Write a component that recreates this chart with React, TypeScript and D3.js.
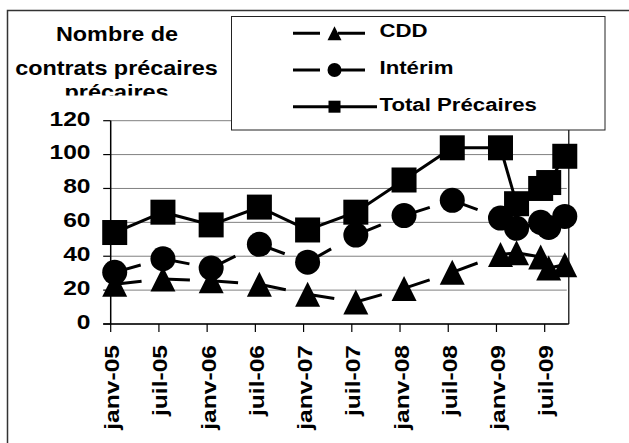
import * as d3 from 'd3'

const months = ['2005-01', '2005-07', '2006-01', '2006-07', '2007-01', '2007-07', '2008-01', '2008-07', '2009-01', '2009-03', '2009-06', '2009-07', '2009-09']
const cdd = [23.5, 26.5, 25.5, 23.5, 17.5, 13, 21, 30.5, 41, 42, 39.5, 33, 35]
const interim = [30.5, 38.5, 33, 47, 36.5, 52.5, 64, 73, 62.5, 56.5, 60, 57, 63.5]
const total = [54, 66, 58.5, 69, 55.5, 66, 85, 104, 104, 71, 80, 83.5, 99]

const axisStart = '2005-01'
const axisEnd = '2009-10'
const xTickMonths = ['2005-01', '2005-07', '2006-01', '2006-07', '2007-01', '2007-07', '2008-01', '2008-07', '2009-01', '2009-07']
const xTickLabels = ['janv-05', 'juil-05', 'janv-06', 'juil-06', 'janv-07', 'juil-07', 'janv-08', 'juil-08', 'janv-09', 'juil-09']
const yTicks = [0, 20, 40, 60, 80, 100, 120]

const titleLines = ['Nombre de', 'contrats précaires', 'précaires']
const legendLabels = ['CDD', 'Intérim', 'Total Précaires']

const FONT = '"Liberation Sans", Arial, sans-serif'
const STRETCH = 1.2

function monthIndex(s: string) {
  const [yy, mm] = s.split('-').map(Number)
  return (yy - 2005) * 12 + (mm - 1)
}

function Label({ x, y, size, anchor = 'start', rotate = 0, children }: any) {
  return (
    <text
      transform={`translate(${x},${y}) rotate(${rotate}) scale(${STRETCH},1)`}
      fontSize={size}
      fontWeight="bold"
      fontFamily={FONT}
      textAnchor={anchor}
      fill="#000"
    >
      {children}
    </text>
  )
}

function Marker({ kind, cx, cy, s }: { kind: string; cx: number; cy: number; s: number }) {
  if (kind === 'square') return <rect x={cx - s / 2} y={cy - s / 2} width={s} height={s} fill="#000" />
  if (kind === 'circle') return <circle cx={cx} cy={cy} r={s / 2} fill="#000" />
  const tri = `M${cx},${cy - s / 2}L${cx + s / 2},${cy + s / 2}L${cx - s / 2},${cy + s / 2}Z`
  return <path d={tri} fill="#000" />
}

export default function App() {
  const x = d3.scaleLinear().domain([monthIndex(axisStart), monthIndex(axisEnd)]).range([110.7, 568.8])
  const y = d3.scaleLinear().domain([0, 120]).range([324, 120.7])
  const px = (s: string) => x(monthIndex(s) + 0.5)

  const series = [
    { name: legendLabels[0], values: cdd, kind: 'triangle', dashed: true, legendY: 33.3 },
    { name: legendLabels[1], values: interim, kind: 'circle', dashed: true, legendY: 70 },
    { name: legendLabels[2], values: total, kind: 'square', dashed: false, legendY: 106.7 },
  ]

  const line = d3.line<number>().x((_, i) => px(months[i])).y(d => y(d))
  const [x0, x1] = x.range()

  return (
    <svg width={629} height={443} style={{ position: 'fixed', left: 0, top: 0, background: '#fff' }}>
      <defs>
        <clipPath id="titleClip">
          <rect x={0} y={10} width={230} height={85.5} />
        </clipPath>
      </defs>
      <rect x={0} y={0} width={629} height={443} fill="#fff" />
      <rect x={7.5} y={10.5} width={640} height={450} fill="none" stroke="#333" strokeWidth={1.5} />

      {/* gridlines */}
      {yTicks.map(t => (
        <line key={t} x1={x0} x2={x1 - 2} y1={y(t)} y2={y(t)} stroke="#808080" strokeWidth={1} />
      ))}
      <line x1={x1} x2={x1} y1={y(120)} y2={y(0)} stroke="#000" strokeWidth={1.2} />

      {/* y axis */}
      <line x1={x0} x2={x0} y1={y(120)} y2={y(0)} stroke="#000" strokeWidth={1.5} />
      {yTicks.map(t => (
        <g key={t}>
          <line x1={x0 - 7.5} x2={x0} y1={y(t)} y2={y(t)} stroke="#000" strokeWidth={1.2} />
          <Label x={90.5} y={y(t) + 4.8} size={20.5} anchor="end">{t}</Label>
        </g>
      ))}

      {/* x axis */}
      <line x1={x0 - 7.5} x2={x1} y1={y(0)} y2={y(0)} stroke="#000" strokeWidth={1.5} />
      {xTickMonths.map((m, i) => {
        const tx = x(monthIndex(m))
        return (
          <g key={m}>
            <line x1={tx} x2={tx} y1={y(0)} y2={y(0) + 8} stroke="#000" strokeWidth={1.2} />
            <Label x={tx + 8.5} y={345} size={20.5} anchor="end" rotate={-90}>{xTickLabels[i]}</Label>
          </g>
        )
      })}

      {/* series */}
      {series.map(s => (
        <g key={s.name}>
          {s.dashed
            ? s.values.slice(1).map((v, i) => (
                <line
                  key={i}
                  x1={px(months[i])} y1={y(s.values[i])}
                  x2={px(months[i + 1])} y2={y(v)}
                  stroke="#000" strokeWidth={3} strokeDasharray="27,18"
                />
              ))
            : <path d={line(s.values) ?? ''} fill="none" stroke="#000" strokeWidth={3} />}
          {s.values.map((v, i) => (
            <Marker key={i} kind={s.kind} cx={px(months[i])} cy={y(v)} s={25} />
          ))}
        </g>
      ))}

      {/* title */}
      <g clipPath="url(#titleClip)">
        <Label x={117} y={41} size={19.5} anchor="middle">{titleLines[0]}</Label>
        <Label x={116.5} y={75} size={19.5} anchor="middle">{titleLines[1]}</Label>
        <Label x={116.5} y={98.5} size={19.5} anchor="middle">{titleLines[2]}</Label>
      </g>

      {/* legend */}
      <rect x={231.5} y={16.5} width={373.5} height={113.5} fill="#fff" stroke="#222" strokeWidth={1} />
      {series.map(s => (
        <g key={s.name}>
          <line x1={293} x2={377} y1={s.legendY} y2={s.legendY} stroke="#000" strokeWidth={3}
            strokeDasharray={s.dashed ? '27,18' : undefined} />
          <Marker kind={s.kind} cx={334.5} cy={s.legendY} s={s.kind === 'square' ? 12 : 14} />
          <Label x={379.5} y={s.legendY + 4 + (s.kind === 'triangle' ? 0 : 0)} size={18.5}>{s.name}</Label>
        </g>
      ))}
    </svg>
  )
}
